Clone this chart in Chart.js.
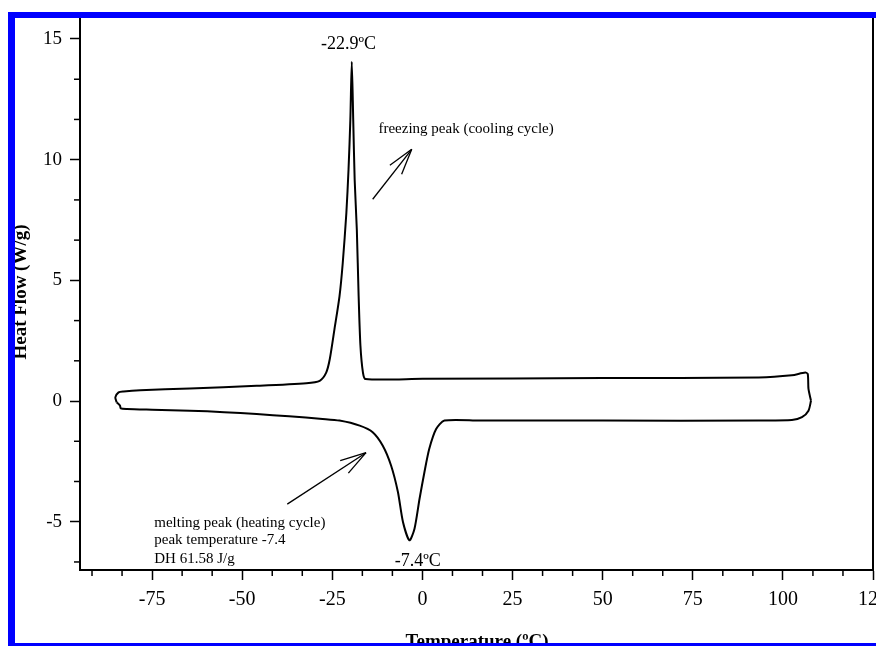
<!DOCTYPE html>
<html><head><meta charset="utf-8">
<script src="https://cdn.jsdelivr.net/npm/chart.js@4/dist/chart.umd.min.js"></script>
<style>html,body{margin:0;padding:0;background:#fff;overflow:hidden}</style>
</head><body>
<canvas id="c" width="876" height="646"></canvas>
<script>
// ---- data ----
// heating cycle (lower branch, melting peak)
const heatingTemp = [-84.8, -83.9, -83.7, -82.0, -75, -64.5, -55, -46, -37, -27.7, -23.0, -17.4, -13.8, -11.0, -8.7, -6.8, -5.4, -3.6, -2.2, -0.8, 0.55, 1.9, 3.8, 6.1, 15.8, 50, 93.3, 102.5, 105.3, 107.1, 107.8];
const heatingFlow = [-0.06, -0.19, -0.30, -0.33, -0.36, -0.40, -0.46, -0.54, -0.63, -0.74, -0.81, -1.02, -1.29, -1.85, -2.67, -3.77, -5.01, -5.77, -5.29, -4.05, -2.95, -1.98, -1.16, -0.81, -0.81, -0.81, -0.81, -0.79, -0.67, -0.40, 0.01];
// cooling cycle (upper branch, freezing peak)
const coolingTemp = [107.8, 107.1, 106.9, 106.2, 102.5, 93.3, 50, 0, -15.8, -16.5, -17.2, -17.7, -18.2, -18.8, -19.2, -19.6, -20.0, -20.5, -21.1, -22.1, -23.0, -24.4, -25.7, -26.7, -28.5, -32.2, -46, -64.5, -78.3, -82.9, -84.3, -85.2, -84.8];
const coolingFlow = [0.01, 0.50, 1.12, 1.18, 1.07, 0.98, 0.95, 0.92, 0.91, 1.18, 2.29, 4.35, 7.1, 9.17, 11.65, 14.06, 11.65, 9.6, 7.80, 5.73, 4.35, 2.98, 1.74, 1.18, 0.84, 0.74, 0.63, 0.52, 0.45, 0.40, 0.36, 0.15, -0.06];

const xTickValues = [-75, -50, -25, 0, 25, 50, 75, 100, 125];
const yTickValues = [-5, 0, 5, 10, 15];
const xMinorTicks = [-91.667, -83.333, -66.667, -58.333, -41.667, -33.333, -16.667, -8.333, 8.333, 16.667, 33.333, 41.667, 58.333, 66.667, 83.333, 91.667, 108.333, 116.667];
const yMinorTicks = [-6.667, -3.333, -1.667, 1.667, 3.333, 6.667, 8.333, 11.667, 13.333];

const xTitle = 'Temperature (ºC)';
const yTitle = 'Heat Flow (W/g)';

// annotations (data coordinates)
const peakLabels = [
  {text: '-22.9ºC', x: -20.5, y: 14.57},
  {text: '-7.4ºC', x: -1.3, y: -6.84}
];
const noteLines = [
  {text: 'freezing peak (cooling cycle)', x: -12.2, y: 11.11},
  {text: 'melting peak (heating cycle)', x: -74.4, y: -5.21},
  {text: 'peak temperature -7.4', x: -74.4, y: -5.94},
  {text: 'DH 61.58 J/g', x: -74.4, y: -6.70}
];
const arrows = [
  {from: [-13.8, 8.36], to: [-2.97, 10.43]},
  {from: [-37.5, -4.27], to: [-15.65, -2.14]}
];

const toPts = (xs, ys) => xs.map((x, i) => ({x: x, y: ys[i]}));
const SERIF = '"Liberation Serif", "Times New Roman", serif';

const extras = {
  id: 'extras',
  afterDatasetsDraw(chart) {
    const {ctx, chartArea: a, scales: {x, y}} = chart;
    ctx.save();
    ctx.strokeStyle = '#000';
    ctx.fillStyle = '#000';
    // right frame line
    ctx.lineWidth = 2;
    ctx.beginPath(); ctx.moveTo(a.right, a.top); ctx.lineTo(a.right, a.bottom + 1); ctx.stroke();
    // minor ticks
    ctx.lineWidth = 1.5;
    xMinorTicks.forEach(v => {
      const px = x.getPixelForValue(v);
      ctx.beginPath(); ctx.moveTo(px, a.bottom); ctx.lineTo(px, a.bottom + 6); ctx.stroke();
    });
    yMinorTicks.forEach(v => {
      const py = y.getPixelForValue(v);
      ctx.beginPath(); ctx.moveTo(a.left - 6, py); ctx.lineTo(a.left, py); ctx.stroke();
    });
    // text annotations
    ctx.textBaseline = 'alphabetic';
    ctx.font = '18px ' + SERIF;
    ctx.textAlign = 'center';
    peakLabels.forEach(l => ctx.fillText(l.text, x.getPixelForValue(l.x), y.getPixelForValue(l.y)));
    ctx.font = '15px ' + SERIF;
    ctx.textAlign = 'left';
    noteLines.forEach(l => ctx.fillText(l.text, x.getPixelForValue(l.x), y.getPixelForValue(l.y)));
    // arrows
    ctx.lineWidth = 1.3;
    arrows.forEach(ar => {
      const x0 = x.getPixelForValue(ar.from[0]), y0 = y.getPixelForValue(ar.from[1]);
      const x1 = x.getPixelForValue(ar.to[0]), y1 = y.getPixelForValue(ar.to[1]);
      ctx.beginPath(); ctx.moveTo(x0, y0); ctx.lineTo(x1, y1); ctx.stroke();
      const ang = Math.atan2(y0 - y1, x0 - x1);
      [-0.28, 0.28].forEach(d => {
        ctx.beginPath(); ctx.moveTo(x1, y1);
        ctx.lineTo(x1 + 27 * Math.cos(ang + d), y1 + 27 * Math.sin(ang + d));
        ctx.stroke();
      });
    });
    // axis titles
    ctx.font = 'bold 19px ' + SERIF;
    ctx.textAlign = 'center';
    ctx.fillText(xTitle, 477, 647);
    ctx.save();
    ctx.translate(26, 292);
    ctx.rotate(-Math.PI / 2);
    ctx.fillText(yTitle, 0, 0);
    ctx.restore();
    ctx.restore();
  },
  afterDraw(chart) {
    const ctx = chart.ctx;
    ctx.save();
    ctx.fillStyle = '#0000ff';
    ctx.fillRect(8, 12, 7, 634);
    ctx.fillRect(8, 12, 868, 6);
    ctx.fillRect(8, 643, 868, 3);
    ctx.restore();
  }
};

const lineStyle = {showLine: true, pointRadius: 0, pointHoverRadius: 0, borderColor: '#000000', backgroundColor: '#000000', borderWidth: 2, tension: 0.25, fill: false};

new Chart(document.getElementById('c'), {
  type: 'scatter',
  data: {
    datasets: [
      Object.assign({label: 'heating', data: toPts(heatingTemp, heatingFlow)}, lineStyle),
      Object.assign({label: 'cooling', data: toPts(coolingTemp, coolingFlow)}, lineStyle)
    ]
  },
  options: {
    responsive: false,
    animation: false,
    devicePixelRatio: 1,
    layout: {padding: {left: 0, top: 18, right: 3, bottom: 0}},
    plugins: {legend: {display: false}, tooltip: {enabled: false}, colors: {enabled: false}},
    scales: {
      x: {
        type: 'linear', min: -95, max: 125,
        afterBuildTicks: s => { s.ticks = xTickValues.map(v => ({value: v})); },
        afterFit: s => { s.height = 76; s.paddingLeft = 0; s.paddingRight = 0; },
        grid: {drawOnChartArea: false, drawTicks: true, tickLength: 10, tickColor: '#000', tickWidth: 1.5},
        border: {display: true, color: '#000', width: 2},
        ticks: {color: '#000', font: {family: SERIF, size: 20}, padding: 8, maxRotation: 0, autoSkip: false}
      },
      y: {
        type: 'linear', min: -7, max: 15.87,
        afterBuildTicks: s => { s.ticks = yTickValues.map(v => ({value: v})); },
        afterFit: s => { s.width = 80; s.paddingTop = 0; s.paddingBottom = 0; },
        grid: {drawOnChartArea: false, drawTicks: true, tickLength: 10, tickColor: '#000', tickWidth: 1.5},
        border: {display: true, color: '#000', width: 2},
        ticks: {color: '#000', font: {family: SERIF, size: 19}, padding: 8}
      }
    }
  },
  plugins: [extras]
});
</script>
</body></html>
